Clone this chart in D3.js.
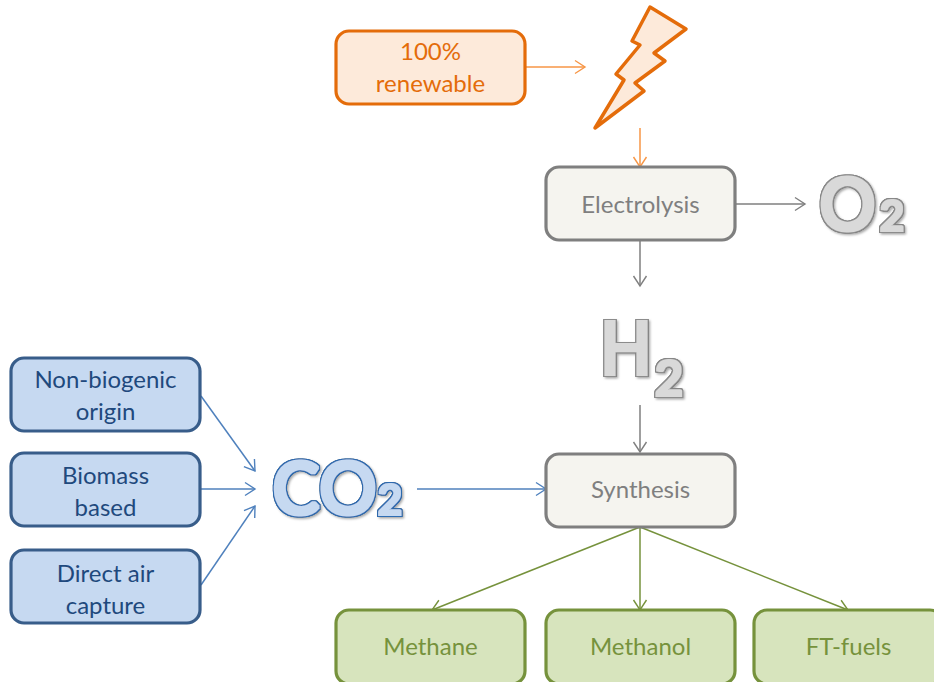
<!DOCTYPE html>
<html>
<head>
<meta charset="utf-8">
<script src="https://cdn.jsdelivr.net/npm/d3@7"></script>
<style>
html, body { margin: 0; padding: 0; background: #fff; overflow: hidden; }
svg { display: block; }
text { font-family: Lato, "Open Sans", sans-serif; }
</style>
</head>
<body>
<div id="chart"></div>
<script>
// node names, split on \n for the two line boxes
var sources = ["100%\nrenewable"]
var processes = ["Electrolysis", "Synthesis"]
var carbon = ["Non-biogenic\norigin", "Biomass\nbased", "Direct air\ncapture"]
var products = ["Methane", "Methanol", "FT-fuels"]
var gases = ["O", "H", "CO"]

// which way things flow: from, to, group
var links = [
    ["renewableOut", "boltIn", "orange"],
    ["boltOut", "electrolysisTop", "orange"],
    ["electrolysisRight", "o2", "grey"],
    ["electrolysisBottom", "h2", "grey"],
    ["h2Out", "synthesisTop", "grey"],
    ["nonbioOut", "co2Upper", "blue"],
    ["biomassOut", "co2Mid", "blue"],
    ["directOut", "co2Lower", "blue"],
    ["co2Out", "synthesisLeft", "blue"],
    ["synthesisBottom", "methaneTop", "green"],
    ["synthesisBottom", "methanolTop", "green"],
    ["synthesisBottom", "ftTop", "green"]
]

var width = 934
var height = 682
var boxW = 189

var colors = {
    orange: {stroke: "#e46c0a", fill: "#fdeada", text: "#e46c0a", arrow: "#f79646"},
    grey: {stroke: "#7f7f7f", fill: "#f5f4ef", text: "#7f7f7f", arrow: "#7f7f7f"},
    blue: {stroke: "#385d8a", fill: "#c6d9f1", text: "#1f497d", arrow: "#4f81bd"},
    green: {stroke: "#76923c", fill: "#d7e4bd", text: "#76923c", arrow: "#76923c"}
}

// layout
var rows = ["top", "electrolysis", "b1", "b2", "b3", "synthesis", "bottom"]
var x = d3.scaleOrdinal()
    .domain(["blue", "left", "mid", "right"])
    .range([11, 336, 546, 754])
var y = d3.scaleOrdinal()
    .domain(rows)
    .range([31, 167, 358, 453, 550, 454, 610])
var boxH = d3.scaleOrdinal().domain(["bottom"]).range([74]).unknown(73)
// text baseline below the box middle
var textDy = d3.scaleOrdinal()
    .domain(rows)
    .range([8.5, 9, 9, 10, 11, 7.5, 8])

var boxes = [
    {label: sources[0], col: "left", row: "top", group: "orange"},
    {label: processes[0], col: "mid", row: "electrolysis", group: "grey"},
    {label: processes[1], col: "mid", row: "synthesis", group: "grey"},
    {label: carbon[0], col: "blue", row: "b1", group: "blue"},
    {label: carbon[1], col: "blue", row: "b2", group: "blue"},
    {label: carbon[2], col: "blue", row: "b3", group: "blue"},
    {label: products[0], col: "left", row: "bottom", group: "green"},
    {label: products[1], col: "mid", row: "bottom", group: "green"},
    {label: products[2], col: "right", row: "bottom", group: "green"}
]

var anchors = {
    renewableOut: [526, 67], boltIn: [585, 67],
    boltOut: [640, 128], electrolysisTop: [640, 167],
    electrolysisRight: [735, 204], o2: [805, 204],
    electrolysisBottom: [640, 240], h2: [640, 286],
    h2Out: [640, 405], synthesisTop: [640, 452],
    nonbioOut: [201, 396], co2Upper: [255, 471],
    biomassOut: [201, 489], co2Mid: [255, 489],
    directOut: [201, 585], co2Lower: [255, 506],
    co2Out: [417, 489], synthesisLeft: [546, 489],
    synthesisBottom: [640, 527], methaneTop: [432, 610],
    methanolTop: [640, 610], ftTop: [848, 610]
}

var gasStyle = {
    O: {filter: "gas-grey", x: 819, y: 231, w: 57, subX: 879.5, subY: 231, subSize: 42, subW: 25},
    H: {filter: "gas-grey", x: 600, y: 375, w: 52, subX: 654.5, subY: 396, subSize: 50, subW: 29},
    CO: {filter: "gas-blue", x: 272, y: 515, w: 105, subX: 377.5, subY: 515, subSize: 42, subW: 25}
}

var svg = d3.select("#chart")
    .append("svg")
        .attr("width", width)
        .attr("height", height)

var defs = svg.append("defs")

// fat outlined letters with a soft shadow, the fonts here have no heavy enough weight
function gasFilter(id, fill, line){
    var f = defs.append("filter")
        .attr("id", id)
        .attr("x", "-20%").attr("y", "-20%")
        .attr("width", "140%").attr("height", "140%")
    f.append("feMorphology").attr("in", "SourceAlpha").attr("operator", "dilate")
        .attr("radius", 2.2).attr("result", "outer")
    f.append("feMorphology").attr("in", "SourceAlpha").attr("operator", "dilate")
        .attr("radius", 0.9).attr("result", "inner")
    f.append("feFlood").attr("flood-color", line).attr("result", "lineColor")
    f.append("feFlood").attr("flood-color", fill).attr("result", "fillColor")
    f.append("feComposite").attr("in", "lineColor").attr("in2", "outer")
        .attr("operator", "in").attr("result", "lineShape")
    f.append("feComposite").attr("in", "fillColor").attr("in2", "inner")
        .attr("operator", "in").attr("result", "fillShape")
    f.append("feDropShadow").attr("in", "outer")
        .attr("dx", 1.5).attr("dy", 1.5).attr("stdDeviation", 1.2)
        .attr("flood-color", "#000").attr("flood-opacity", 0.35)
        .attr("result", "shadow")
    var merge = f.append("feMerge").attr("result", "all")
    merge.append("feMergeNode").attr("in", "shadow")
    merge.append("feMergeNode").attr("in", "lineShape")
    merge.append("feMergeNode").attr("in", "fillShape")
    f.append("feGaussianBlur").attr("in", "all").attr("stdDeviation", 0.35)
}
gasFilter("gas-grey", "#d9d9d9", "#8c8c8c")
gasFilter("gas-blue", "#c6d9f1", "#2e6db4")

// open arrow heads, one per colour
Object.keys(colors).forEach(function(k){
    defs.append("marker")
        .attr("id", "head-" + k)
        .attr("markerUnits", "userSpaceOnUse")
        .attr("viewBox", "-12 -8 14 16")
        .attr("refX", 0).attr("refY", 0)
        .attr("markerWidth", 14).attr("markerHeight", 16)
        .attr("orient", "auto")
        .append("path")
            .attr("d", "M-10,-6.5L0,0L-10,6.5")
            .attr("fill", "none")
            .attr("stroke", colors[k].arrow)
            .attr("stroke-width", 1.4)
})

//// lightning bolt ////
var boltX = [650, 686, 654, 665, 635, 644, 595, 624, 616, 640, 632]
var boltY = [7, 29, 53, 61, 83, 91, 128, 80, 74, 45, 41]
svg.append("path")
    .datum(d3.zip(boltX, boltY))
    .attr("d", d => d3.line()(d) + "Z")
    .attr("fill", colors.orange.fill)
    .attr("stroke", colors.orange.stroke)
    .attr("stroke-width", 3.5)
    .attr("stroke-linejoin", "round")

//// arrows ////
svg.append("g")
    .selectAll("line")
    .data(links)
    .enter()
    .append("line")
        .attr("x1", d => anchors[d[0]][0])
        .attr("y1", d => anchors[d[0]][1])
        .attr("x2", d => anchors[d[1]][0])
        .attr("y2", d => anchors[d[1]][1])
        .attr("stroke", d => colors[d[2]].arrow)
        .attr("stroke-width", 1.5)
        .attr("marker-end", d => "url(#head-" + d[2] + ")")

//// boxes ////
var box = svg.append("g")
    .selectAll("g")
    .data(boxes)
    .enter()
    .append("g")
        .attr("transform", d => "translate(" + x(d.col) + "," + y(d.row) + ")")

box.append("rect")
    .attr("width", boxW)
    .attr("height", d => boxH(d.row))
    .attr("rx", 13)
    .attr("fill", d => colors[d.group].fill)
    .attr("stroke", d => colors[d.group].stroke)
    .attr("stroke-width", 3.2)

box.each(function(d){
    var lines = d.label.split("\n")
    var mid = boxH(d.row) / 2
    d3.select(this).selectAll("text")
        .data(lines)
        .enter()
        .append("text")
            .attr("x", boxW / 2)
            .attr("y", (t, i) => mid + textDy(d.row) + (i - (lines.length - 1) / 2) * 32)
            .attr("text-anchor", "middle")
            .attr("font-size", 24)
            .attr("fill", colors[d.group].text)
            .text(t => t)
})

//// big gas formulas ////
var gas = svg.append("g")
    .selectAll("text")
    .data(gases)
    .enter()
    .append("text")
        .attr("filter", d => "url(#" + gasStyle[d].filter + ")")
        .attr("font-weight", 700)

gas.append("tspan")
    .attr("x", d => gasStyle[d].x)
    .attr("y", d => gasStyle[d].y)
    .attr("font-size", 74)
    .attr("textLength", d => gasStyle[d].w)
    .attr("lengthAdjust", "spacingAndGlyphs")
    .text(d => d)

gas.append("tspan")
    .attr("x", d => gasStyle[d].subX)
    .attr("y", d => gasStyle[d].subY)
    .attr("font-size", d => gasStyle[d].subSize)
    .attr("textLength", d => gasStyle[d].subW)
    .attr("lengthAdjust", "spacingAndGlyphs")
    .text("2")
</script>
</body>
</html>
